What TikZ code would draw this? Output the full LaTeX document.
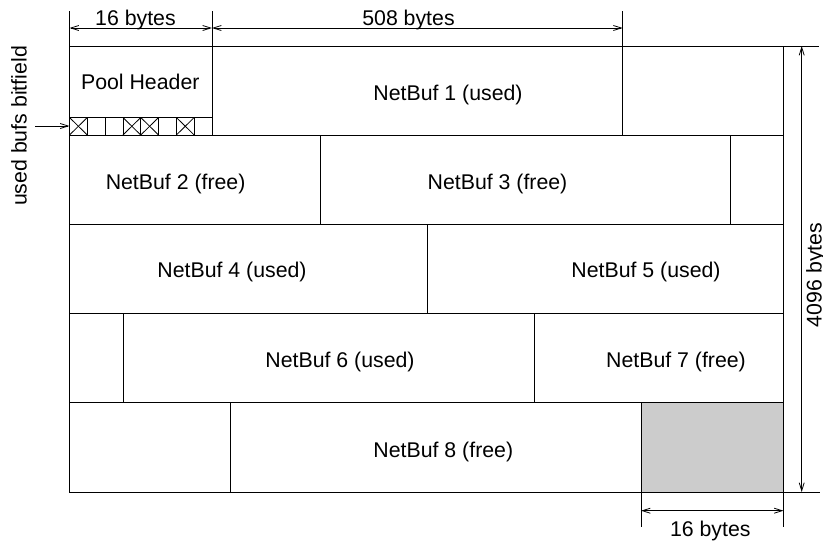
\documentclass[tikz,border=0pt]{standalone}
\usepackage{fontspec}
\setmainfont{Liberation Sans}
\usetikzlibrary{arrows.meta}
\begin{document}
\begin{tikzpicture}[x=1pt,y=-1pt,
  outline/.style={draw=black, line width=0.9pt},
  lbl/.style={font=\fontsize{21.3}{25}\selectfont, inner sep=0pt},
  dimline/.style={draw=black, line width=0.8pt, {Straight Barb[length=8pt,width=5pt]}-{Straight Barb[length=8pt,width=5pt]}},
  extline/.style={draw=black, line width=0.8pt},
  bitcell/.style={draw=black, line width=0.8pt},
]
\useasboundingbox (0,0) rectangle (823,541);

% unused tail of the pool
\fill[black!20] (641,402) rectangle (783.5,492);

% outer frame of the 4096 byte pool
\draw[outline] (69.5,46) rectangle (783.5,492);
% row separators
\foreach \y in {135,224,313,402}
  \draw[outline] (69.5,\y) -- (783.5,\y);
% pool header box
\draw[outline] (212,46) -- (212,135);
\draw[outline] (69.5,117.5) -- (212,117.5);
% buffer boundaries in each row
\draw[outline] (622.7,46) -- (622.7,135);
\draw[outline] (320,135) -- (320,224);
\draw[outline] (730.5,135) -- (730.5,224);
\draw[outline] (427,224) -- (427,313);
\draw[outline] (123,313) -- (123,402);
\draw[outline] (534,313) -- (534,402);
\draw[outline] (230,402) -- (230,492);
\draw[outline] (641,402) -- (641,492);

% bitfield: eight cells, used ones crossed
\foreach \i in {1,...,7}
  \draw[bitcell] ({69.5+\i*17.8125},117.5) -- ({69.5+\i*17.8125},135);
\foreach \i in {0,3,4,6} {
  \draw[bitcell] ({69.5+\i*17.8125},117.5) -- ({69.5+(\i+1)*17.8125},135);
  \draw[bitcell] ({69.5+\i*17.8125},135) -- ({69.5+(\i+1)*17.8125},117.5);
}

% labels
\node[lbl] (hdr) at (140.3,82.2) {Pool Header};
\node[lbl] (nb1) at (448,94.5) {NetBuf 1 (used)};
\node[lbl] (nb2) at (175.6,183.8) {NetBuf 2 (free)};
\node[lbl] (nb3) at (497.5,183.8) {NetBuf 3 (free)};
\node[lbl] (nb4) at (232,272) {NetBuf 4 (used)};
\node[lbl] (nb5) at (646,272) {NetBuf 5 (used)};
\node[lbl] (nb6) at (340,362) {NetBuf 6 (used)};
\node[lbl] (nb7) at (676,362) {NetBuf 7 (free)};
\node[lbl] (nb8) at (443.3,452) {NetBuf 8 (free)};

% extension lines
\draw[extline] (69.5,11) -- (69.5,46);
\draw[extline] (212,11) -- (212,46);
\draw[extline] (622.7,11) -- (622.7,46);
\draw[extline] (783.5,46) -- (819,46);
\draw[extline] (783.5,492) -- (820,492);
\draw[extline] (641,492) -- (641,527);
\draw[extline] (783.5,492) -- (783.5,527);

% dimension end points
\coordinate (hL) at (69.5,28);
\coordinate (hR) at (212,28);
\coordinate (bR) at (622.7,28);
\coordinate (vT) at (801.7,46);
\coordinate (vB) at (801.7,492);
\coordinate (tL) at (641,510.7);
\coordinate (tR) at (783.5,510.7);
\coordinate (bitsrc) at (35,126);
\coordinate (bitdst) at (69.5,126);

\draw[dimline] (hL) -- (hR);
\draw[dimline] (hR) -- (bR);
\draw[dimline] (vT) -- (vB);
\draw[dimline] (tL) -- (tR);
\draw[draw=black, line width=0.8pt, -{Straight Barb[length=8pt,width=5pt]}] (bitsrc) -- (bitdst);

% dimension texts
\node[lbl] (d16) at (135.5,19.5) {16 bytes};
\node[lbl] (d508) at (408.5,19.5) {508 bytes};
\node[lbl] (d16b) at (710.3,531.2) {16 bytes};
\node[lbl, rotate=90] (d4096) at (816,275) {4096 bytes};
\node[lbl, rotate=90] (bits) at (19,126) {used bufs bitfield};
\end{tikzpicture}
\end{document}
